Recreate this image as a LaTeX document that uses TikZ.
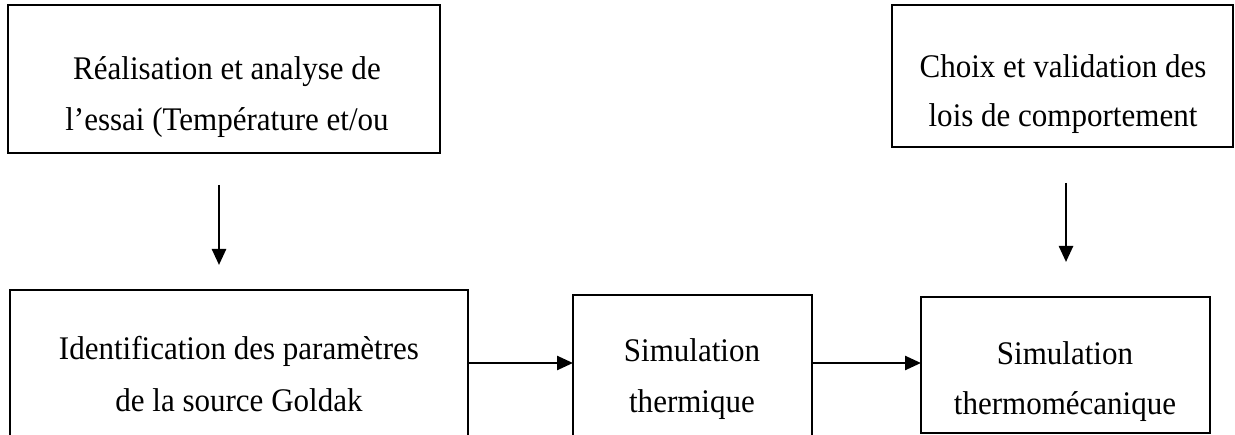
\documentclass[tikz,border=0pt]{standalone}
\usepackage{fontspec}
\setmainfont[FakeStretch=0.94]{Liberation Serif}
\usetikzlibrary{arrows.meta}
\begin{document}
\begin{tikzpicture}[x=1pt,y=-1pt,
  box/.style={draw, line width=2.5pt, inner sep=0pt, outer sep=0pt, anchor=north west},
  lbl/.style={font=\fontsize{33}{40}\selectfont, anchor=base, inner sep=0pt},
  arr/.style={-{Triangle[width=14pt,length=16pt]}, line width=2.5pt}]
\useasboundingbox (0,0) rectangle (1235,435);
\clip (0,0) rectangle (1235,435);
% boxes
\node[box, minimum width=432pt, minimum height=148pt] (b1) at (8,5) {};
\node[box, minimum width=341pt, minimum height=142pt] (b2) at (892,5) {};
\node[box, minimum width=458pt, minimum height=170pt] (b3) at (10,290) {};
\node[box, minimum width=239pt, minimum height=165pt] (b4) at (573,295) {};
\node[box, minimum width=289pt, minimum height=136pt] (b5) at (921,297) {};
% labels
\node[lbl] (t1a) at (227,80) {Réalisation et analyse de};
\node[lbl] (t1b) at (227,131) {l’essai (Température et/ou};
\node[lbl] (t2a) at (1063,78) {Choix et validation des};
\node[lbl] (t2b) at (1063,127) {lois de comportement};
\node[lbl] (t3a) at (239,360) {Identification des paramètres};
\node[lbl] (t3b) at (239,412) {de la source Goldak};
\node[lbl] (t4a) at (692,362) {Simulation};
\node[lbl] (t4b) at (692,413) {thermique};
\node[lbl] (t5a) at (1065,365) {Simulation};
\node[lbl] (t5b) at (1065,415) {thermomécanique};
% connectors
\coordinate (a1s) at (219,185);
\coordinate (a1e) at (219,265);
\coordinate (a2s) at (1066,183);
\coordinate (a2e) at (1066,262);
\coordinate (ylvl) at (0,363);
\draw[arr] (a1s) -- (a1e);
\draw[arr] (a2s) -- (a2e);
\draw[arr] (b3.east |- ylvl) -- (b4.west |- ylvl);
\draw[arr] (b4.east |- ylvl) -- (b5.west |- ylvl);
\end{tikzpicture}
\end{document}
